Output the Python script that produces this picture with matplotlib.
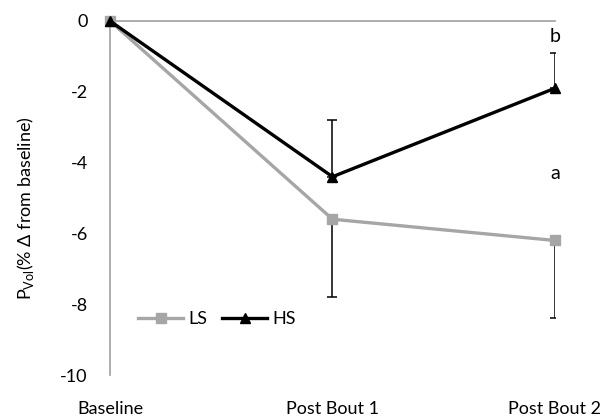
import numpy as np
import matplotlib.pyplot as plt

plt.rcParams['font.family'] = ['Lato', 'DejaVu Sans']
plt.rcParams['mathtext.fontset'] = 'custom'
plt.rcParams['mathtext.rm'] = 'Lato'
plt.rcParams['axes.unicode_minus'] = False

stages = ['Baseline', 'Post Bout 1', 'Post Bout 2']
ls_mean = [0.0, -5.6, -6.2]
ls_err = [0.0, 2.2, 2.2]      # drawn downwards
hs_mean = [0.0, -4.4, -1.9]
hs_err = [0.0, 1.6, 1.0]      # drawn upwards
letters = [('b', -0.45), ('a', -4.3)]

x = np.arange(len(stages))

fig = plt.figure(figsize=(6.06, 4.17), dpi=100)
ax = fig.add_axes([0.1815, 0.1007, 0.7343, 0.849])

ax.errorbar(x, ls_mean, yerr=[ls_err, [0] * 3], fmt='none', ecolor='black',
            elinewidth=1.1, capsize=3.6, capthick=1.1, zorder=2)
ax.errorbar(x, hs_mean, yerr=[[0] * 3, hs_err], fmt='none', ecolor='black',
            elinewidth=1.1, capsize=3.6, capthick=1.1, zorder=2)

ax.plot(x, ls_mean, color='#a6a6a6', lw=2.4, marker='s', ms=6.5,
        label='LS', clip_on=False, zorder=3)
ax.plot(x, hs_mean, color='black', lw=2.4, marker='^', ms=7.5,
        label='HS', clip_on=False, zorder=4)

for txt, yv in letters:
    ax.text(2, yv, txt, ha='center', va='center', fontsize=14)

ax.set_xlim(0, 2)
ax.set_ylim(-10, 0)
ax.set_yticks(np.arange(-10, 1, 2))
ax.set_xticks(x)
ax.set_xticklabels(stages)
ax.tick_params(axis='both', length=0, labelsize=13)
ax.tick_params(axis='y', pad=16)
ax.tick_params(axis='x', pad=19)

for s in ['right', 'bottom']:
    ax.spines[s].set_visible(False)
for s in ['left', 'top']:
    ax.spines[s].set_color('#a0a0a0')
    ax.spines[s].set_linewidth(1.2)

ax.set_ylabel(r'P$_{\mathrm{Vol}}$(% Δ from baseline)', fontsize=13)
ax.yaxis.set_label_coords(-0.166, 0.472)

ax.legend(loc='center left', bbox_to_anchor=(0.063, 0.158), ncol=2, frameon=False,
          fontsize=13, handlelength=2.5, columnspacing=0.8, handletextpad=0.3,
          borderpad=0, borderaxespad=0)

fig.savefig('out.png', dpi=100)
